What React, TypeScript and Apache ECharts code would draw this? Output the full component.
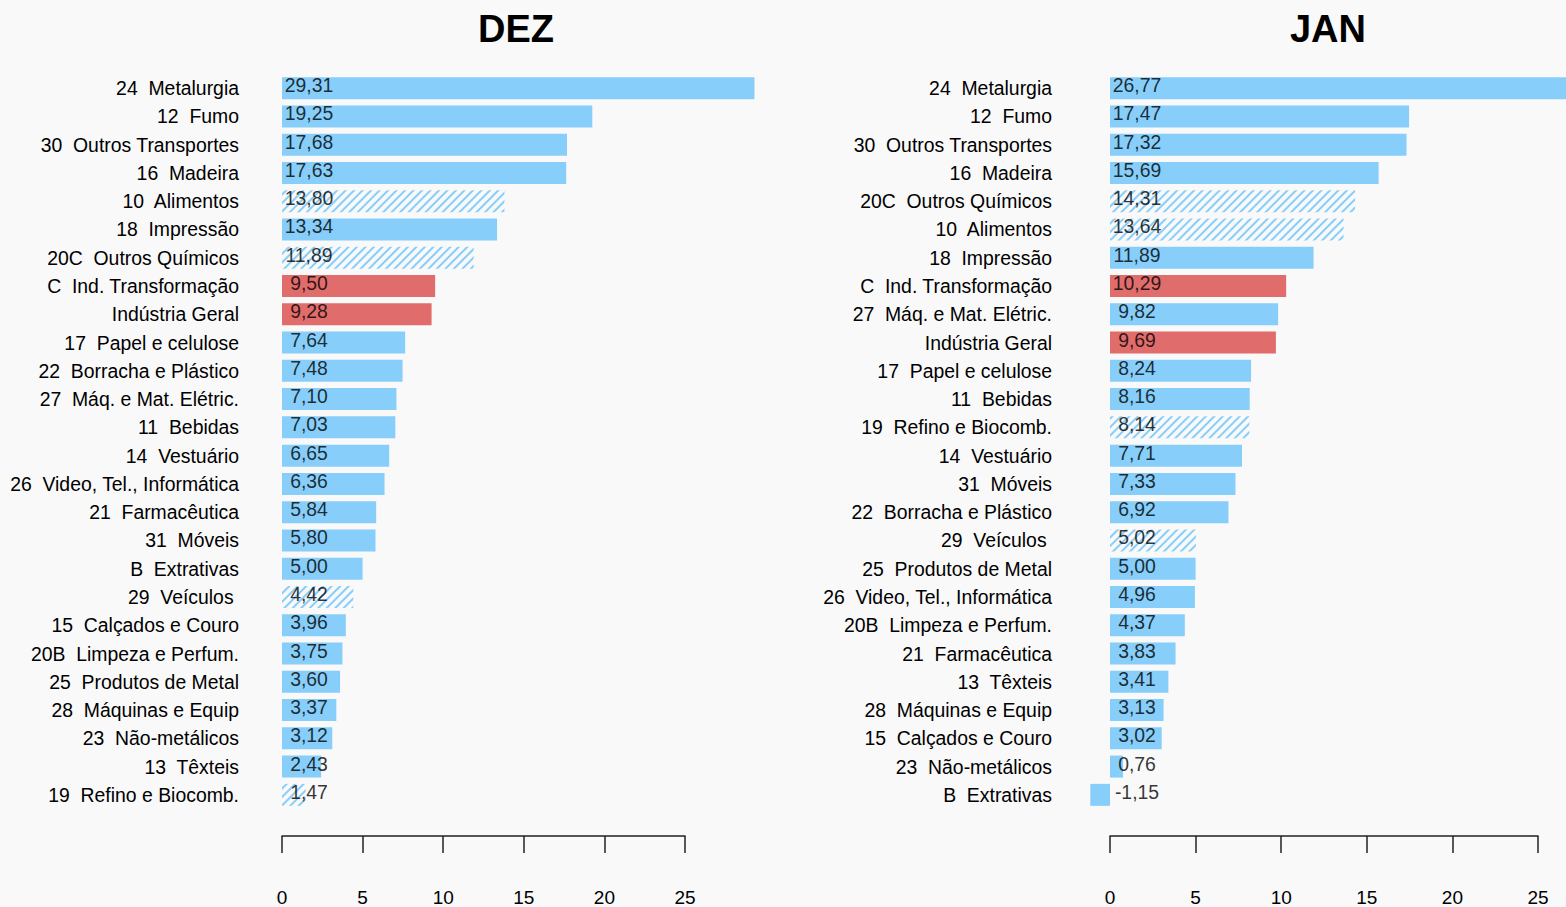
import React, { useEffect, useRef } from "react";
import * as echarts from "echarts";

const dezCategories = [
  "24  Metalurgia", "12  Fumo", "30  Outros Transportes", "16  Madeira", "10  Alimentos",
  "18  Impressão", "20C  Outros Químicos", "C  Ind. Transformação", "Indústria Geral",
  "17  Papel e celulose", "22  Borracha e Plástico", "27  Máq. e Mat. Elétric.", "11  Bebidas",
  "14  Vestuário", "26  Video, Tel., Informática", "21  Farmacêutica", "31  Móveis",
  "B  Extrativas", "29  Veículos ", "15  Calçados e Couro", "20B  Limpeza e Perfum.",
  "25  Produtos de Metal", "28  Máquinas e Equip", "23  Não-metálicos", "13  Têxteis",
  "19  Refino e Biocomb.",
];
const dezValues = [
  29.31, 19.25, 17.68, 17.63, 13.8, 13.34, 11.89, 9.5, 9.28, 7.64, 7.48, 7.1, 7.03, 6.65, 6.36,
  5.84, 5.8, 5.0, 4.42, 3.96, 3.75, 3.6, 3.37, 3.12, 2.43, 1.47,
];

const janCategories = [
  "24  Metalurgia", "12  Fumo", "30  Outros Transportes", "16  Madeira", "20C  Outros Químicos",
  "10  Alimentos", "18  Impressão", "C  Ind. Transformação", "27  Máq. e Mat. Elétric.",
  "Indústria Geral", "17  Papel e celulose", "11  Bebidas", "19  Refino e Biocomb.",
  "14  Vestuário", "31  Móveis", "22  Borracha e Plástico", "29  Veículos ",
  "25  Produtos de Metal", "26  Video, Tel., Informática", "20B  Limpeza e Perfum.",
  "21  Farmacêutica", "13  Têxteis", "28  Máquinas e Equip", "15  Calçados e Couro",
  "23  Não-metálicos", "B  Extrativas",
];
const janValues = [
  26.77, 17.47, 17.32, 15.69, 14.31, 13.64, 11.89, 10.29, 9.82, 9.69, 8.24, 8.16, 8.14, 7.71,
  7.33, 6.92, 5.02, 5.0, 4.96, 4.37, 3.83, 3.41, 3.13, 3.02, 0.76, -1.15,
];

const hatchedSectors = ["10  Alimentos", "20C  Outros Químicos", "29  Veículos ", "19  Refino e Biocomb."];
const aggregateSectors = ["C  Ind. Transformação", "Indústria Geral"];

const axisTicks = [0, 5, 10, 15, 20, 25];

const FONT = "'Liberation Sans', Arial, Helvetica, sans-serif";
const BLUE = "#87CEFA";
const RED = "#E06C6C";
const BG = "#F9F9F9";

function fmt(v: number) {
  return v.toFixed(2).replace(".", ",");
}

function barData(cats: string[], vals: number[]) {
  return vals.map((v, i) => {
    const c = cats[i];
    if (hatchedSectors.includes(c)) {
      return {
        value: v,
        itemStyle: {
          color: "rgba(0,0,0,0)",
          borderWidth: 0,
          decal: {
            symbol: "rect",
            symbolSize: 1,
            color: BLUE,
            backgroundColor: "rgba(0,0,0,0)",
            dashArrayX: [1, 0],
            dashArrayY: [2, 4],
            rotation: -Math.PI / 4,
          },
        },
      };
    }
    if (aggregateSectors.includes(c)) {
      return { value: v, itemStyle: { color: RED } };
    }
    return { value: v, itemStyle: { color: BLUE } };
  });
}

export default function App() {
  const ref = useRef<HTMLDivElement>(null);
  useEffect(() => {
    if (!ref.current) return;
    const chart = echarts.init(ref.current, undefined, { renderer: "svg" });
    const grids = [
      { left: 282, width: 403, top: 74, height: 735 },
      { left: 1110, width: 428, top: 74, height: 735 },
    ];
    const panels = [
      { cats: dezCategories, vals: dezValues, margin: 43 },
      { cats: janCategories, vals: janValues, margin: 58 },
    ];
    const option: any = {
      animation: false,
      backgroundColor: BG,
      textStyle: { fontFamily: FONT },
      grid: grids,
      xAxis: panels.map((_, i) => ({
        type: "value",
        gridIndex: i,
        min: axisTicks[0],
        max: axisTicks[axisTicks.length - 1],
        interval: 5,
        position: "bottom",
        offset: 27,
        axisLine: { show: true, lineStyle: { color: "#222", width: 1.5 } },
        axisTick: { show: true, length: 17, lineStyle: { color: "#222", width: 1.5 } },
        axisLabel: { show: true, margin: 52, fontSize: 19, color: "#000", fontFamily: FONT },
        splitLine: { show: false },
      })),
      yAxis: panels.map((p, i) => ({
        type: "category",
        gridIndex: i,
        inverse: true,
        data: p.cats,
        axisLine: { show: false },
        axisTick: { show: false },
        axisLabel: { show: true, margin: p.margin, fontSize: 19.4, color: "#000", fontFamily: FONT, padding: [0, 0, 2, 0] },
      })),
      series: [
        ...panels.map((p, i) => ({
          type: "bar",
          xAxisIndex: i,
          yAxisIndex: i,
          barWidth: 22,
          clip: false,
          data: barData(p.cats, p.vals),
        })),
        ...panels.map((p, i) => ({
          type: "scatter",
          xAxisIndex: i,
          yAxisIndex: i,
          symbolSize: 0,
          z: 10,
          silent: true,
          data: p.vals.map((v, j) => [0, p.cats[j], v]),
          label: {
            show: true,
            position: "inside",
            offset: [27, -3],
            align: "center",
            verticalAlign: "middle",
            fontSize: 19.4,
            color: "#000",
            fontFamily: FONT,
            formatter: (pr: any) => fmt(pr.value[2]),
          },
        })),
      ],
      graphic: [
        {
          type: "text",
          x: 516,
          y: 29,
          style: { text: "DEZ", fontSize: 38, fontWeight: "bold", fill: "#000", textAlign: "center", textVerticalAlign: "middle", fontFamily: FONT },
        },
        {
          type: "text",
          x: 1328,
          y: 29,
          style: { text: "JAN", fontSize: 38, fontWeight: "bold", fill: "#000", textAlign: "center", textVerticalAlign: "middle", fontFamily: FONT },
        },
      ],
    };
    chart.setOption(option);
    return () => chart.dispose();
  }, []);
  return (
    <div
      ref={ref}
      style={{ position: "fixed", left: 0, top: 0, width: 1566, height: 907, background: BG }}
    />
  );
}
